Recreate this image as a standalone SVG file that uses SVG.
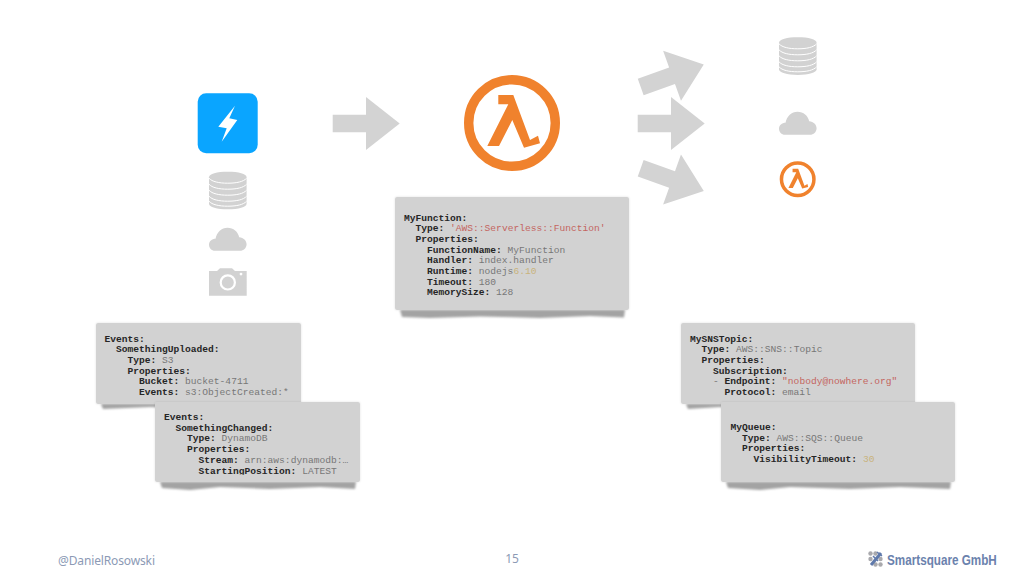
<svg xmlns="http://www.w3.org/2000/svg" xmlns:xlink="http://www.w3.org/1999/xlink" width="1024" height="576" viewBox="0 0 1024 576">
<style>
.card{fill:#d2d2d2;filter:url(#soft)}
.torn{fill:#a3a3a3;filter:url(#b1)}
.code{font-family:"Liberation Mono","Courier New",monospace;font-size:9.6px;fill:#777}
.k{font-weight:700;fill:#262626}
.s{fill:#c4655f}
.n{fill:#c9b27c}
.gray{fill:#d2d2d2}
.arrow{fill:#d3d3d3}
.stripe{fill:none;stroke:#fff;stroke-width:1}
.foot{font-family:"Noto Sans","Open Sans",sans-serif;font-size:12px;fill:#8c9ab5}
.brand{font-family:"Liberation Sans",Arial,sans-serif;font-size:15px;font-weight:700;fill:#6b82ad}
.dot1{fill:#a9a9ad}.dot2{fill:#5f79ab}
</style>
<defs>
<filter id="soft" x="-5%" y="-5%" width="110%" height="110%"><feDropShadow dx="0" dy="0" stdDeviation="1.2" flood-color="#000" flood-opacity=".12"/></filter>
<filter id="b1" x="-5%" y="-50%" width="110%" height="200%"><feGaussianBlur stdDeviation="1.1"/></filter>
<path id="arr" d="M0-8.7H33.3V-26.5L67 0 33.3 26.5V8.7H0Z"/>
<g id="db">
<path d="M0 5.500C0 2 8 0 18.800 0S37.600 2 37.600 5.500V32C37.600 35.500 29.600 37.600 18.800 37.600S0 35.500 0 32Z"/>
<path class="stripe" d="M0 6.500C3 10 10 11.500 18.800 11.500S34.600 10 37.600 6.500"/>
<path class="stripe" d="M0 12.500C3 16 10 17.500 18.800 17.500S34.600 16 37.600 12.500"/>
<path class="stripe" d="M0 18.500C3 22 10 23.500 18.800 23.500S34.600 22 37.600 18.500"/>
<path class="stripe" d="M0 24.500C3 28 10 29.500 18.800 29.500S34.600 28 37.600 24.500"/>
<path class="stripe" d="M0 29.500C3 33 10 34.500 18.800 34.500S34.600 33 37.600 29.500"/>
</g>
<path id="cloud" d="M6 23C2.500 23 0 20.300 0 17 0 13.500 3 11 6.500 11 7.800 4.500 12.500 0 18.500 0 24.500 0 29 4 30.200 9.500 34.500 9.700 37.600 13 37.600 16.500 37.600 20.300 34.500 23 31 23Z"/>
<g id="lam">
<circle cx="0" cy="0" r="43.300" fill="none" stroke="#f0822d" stroke-width="9.400"/>
<path fill="#f0822d" d="M-13.700-28H1.300L18 17 26 12.700 28 20.300 12 24.700 .3-3-13 23H-24.700L-3.700-18.700H-13.700Z"/>
</g>
<clipPath id="c2"><rect x="155" y="402" width="205" height="72.800"/></clipPath>
</defs>
<rect width="1024" height="576" fill="#fff"/>

<g id="connectors">
<use href="#arr" class="arrow" x="332.700" y="123.500"/>
<use href="#arr" class="arrow" transform="translate(640.700 87) rotate(-19.700)"/>
<use href="#arr" class="arrow" x="637.700" y="123.500"/>
<use href="#arr" class="arrow" transform="translate(640.700 168.300) rotate(19.700)"/>
</g>

<g id="source-apigw"><rect x="197.700" y="93.300" width="60" height="60" rx="8.500" fill="#0aa5ff"/><path fill="#fff" d="M235 105.700 218.300 126.700 226.700 128.300 221.700 141.700 237.300 120 229.300 118.300Z"/></g>
<use id="source-db" href="#db" class="gray" x="209" y="171.700"/>
<use id="source-cloud" href="#cloud" class="gray" x="209" y="227.700"/>
<g id="source-camera" class="gray"><path fill-rule="evenodd" d="M209 271H217L220 268.300H232L235 271H246.700V295.700H209ZM227.800 274.200A8.200 8.200 0 1 0 227.801 290.600 8.200 8.200 0 1 0 227.800 274.200ZM227.800 276.400A6 6 0 1 1 227.799 288.400 6 6 0 1 1 227.800 276.400ZM241 272.700A1.400 1.400 0 1 0 241.010 275.500 1.400 1.400 0 1 0 241 272.700Z"/></g>

<use id="lambda" href="#lam" x="512" y="123"/>
<use id="target-db" href="#db" class="gray" x="779" y="37.300"/>
<use id="target-cloud" href="#cloud" class="gray" x="779" y="111.700"/>
<use id="target-lambda" href="#lam" transform="translate(797.700 179.300) scale(.375)"/>

<g id="card-function">
<path class="torn" d="M400 310H625L624 317.500 590 316 540 318 480 316.500 430 318 402 317Z"/>
<rect class="card" x="395" y="197" width="234" height="113" rx="2"/>
<text class="code" xml:space="preserve">
<tspan class="k" x="404" y="220.500">MyFunction:</tspan>
<tspan x="415.500" y="231.200"><tspan class="k">Type:</tspan> <tspan class="s">'AWS::Serverless::Function'</tspan></tspan>
<tspan class="k" x="415.500" y="241.900">Properties:</tspan>
<tspan x="427" y="252.600"><tspan class="k">FunctionName:</tspan> MyFunction</tspan>
<tspan x="427" y="263.300"><tspan class="k">Handler:</tspan> index.handler</tspan>
<tspan x="427" y="274"><tspan class="k">Runtime:</tspan> nodejs<tspan class="n">6.10</tspan></tspan>
<tspan x="427" y="284.700"><tspan class="k">Timeout:</tspan> 180</tspan>
<tspan x="427" y="295.400"><tspan class="k">MemorySize:</tspan> 128</tspan>
</text>
</g>

<g id="card-s3">
<path class="torn" d="M101 404H296L295 408 250 407 200 408.500 150 407 103 409Z"/>
<rect class="card" x="96" y="323" width="205" height="81" rx="2"/>
<text class="code" xml:space="preserve">
<tspan class="k" x="104.500" y="341.500">Events:</tspan>
<tspan class="k" x="116" y="352.200">SomethingUploaded:</tspan>
<tspan x="127.500" y="362.900"><tspan class="k">Type:</tspan> S3</tspan>
<tspan class="k" x="127.500" y="373.600">Properties:</tspan>
<tspan x="139" y="384.300"><tspan class="k">Bucket:</tspan> bucket-4711</tspan>
<tspan x="139" y="395"><tspan class="k">Events:</tspan> s3:ObjectCreated:*</tspan>
</text>
</g>

<g id="card-dynamodb">
<path class="torn" d="M160 482H356L355 489 320 487 270 489 220 487 190 490 162 488Z"/>
<rect class="card" x="155" y="402" width="205" height="80" rx="2"/>
<text class="code" xml:space="preserve" clip-path="url(#c2)">
<tspan class="k" x="164" y="420">Events:</tspan>
<tspan class="k" x="175.500" y="430.700">SomethingChanged:</tspan>
<tspan x="187" y="441.400"><tspan class="k">Type:</tspan> DynamoDB</tspan>
<tspan class="k" x="187" y="452.100">Properties:</tspan>
<tspan x="198.500" y="462.800"><tspan class="k">Stream:</tspan> arn:aws:dynamodb:…</tspan>
<tspan x="198.500" y="473.500"><tspan class="k">StartingPosition:</tspan> LATEST</tspan>
</text>
</g>

<g id="card-sns">
<path class="torn" d="M686 404H910L909 408 850 407 780 408.500 720 407 688 409Z"/>
<rect class="card" x="681" y="323" width="234" height="81" rx="2"/>
<text class="code" xml:space="preserve">
<tspan class="k" x="690" y="341.500">MySNSTopic:</tspan>
<tspan x="701.500" y="352.200"><tspan class="k">Type:</tspan> AWS::SNS::Topic</tspan>
<tspan class="k" x="701.500" y="362.900">Properties:</tspan>
<tspan class="k" x="713" y="373.600">Subscription:</tspan>
<tspan x="713" y="384.300">- <tspan class="k">Endpoint:</tspan> <tspan class="s">"nobody@nowhere.org"</tspan></tspan>
<tspan x="724.500" y="395"><tspan class="k">Protocol:</tspan> email</tspan>
</text>
</g>

<g id="card-sqs">
<path class="torn" d="M726 482H951L950 489 900 487 850 489 790 487 760 490 728 488Z"/>
<rect class="card" x="721" y="402" width="234" height="80" rx="2"/>
<text class="code" xml:space="preserve">
<tspan class="k" x="730.500" y="430">MyQueue:</tspan>
<tspan x="742" y="440.700"><tspan class="k">Type:</tspan> AWS::SQS::Queue</tspan>
<tspan class="k" x="742" y="451.400">Properties:</tspan>
<tspan x="753.500" y="462.100"><tspan class="k">VisibilityTimeout:</tspan> <tspan class="n">30</tspan></tspan>
</text>
</g>

<g id="footer">
<text class="foot" x="58" y="565" textLength="97">@DanielRosowski</text>
<text class="foot" x="512" y="563" text-anchor="middle">15</text>
<g id="brand-mark">
<circle class="dot1" cx="870.500" cy="553.500" r="2.200"/><circle class="dot1" cx="875.500" cy="553.500" r="2.200"/><circle class="dot1" cx="880.500" cy="559" r="2.200"/>
<circle class="dot1" cx="870.500" cy="559" r="2.200"/><circle class="dot1" cx="875.500" cy="564.500" r="2.200"/><circle class="dot1" cx="880.500" cy="564.500" r="2.200"/>
<path d="M871 565 881 553" fill="none" stroke="#5f79ab" stroke-width="3"/><path d="M873 556 878 561M877 552 882 556" fill="none" stroke="#5f79ab" stroke-width="1.500"/>
</g>
<text class="brand" transform="translate(887 565) scale(.78 1)">Smartsquare GmbH</text>
</g>
</svg>
